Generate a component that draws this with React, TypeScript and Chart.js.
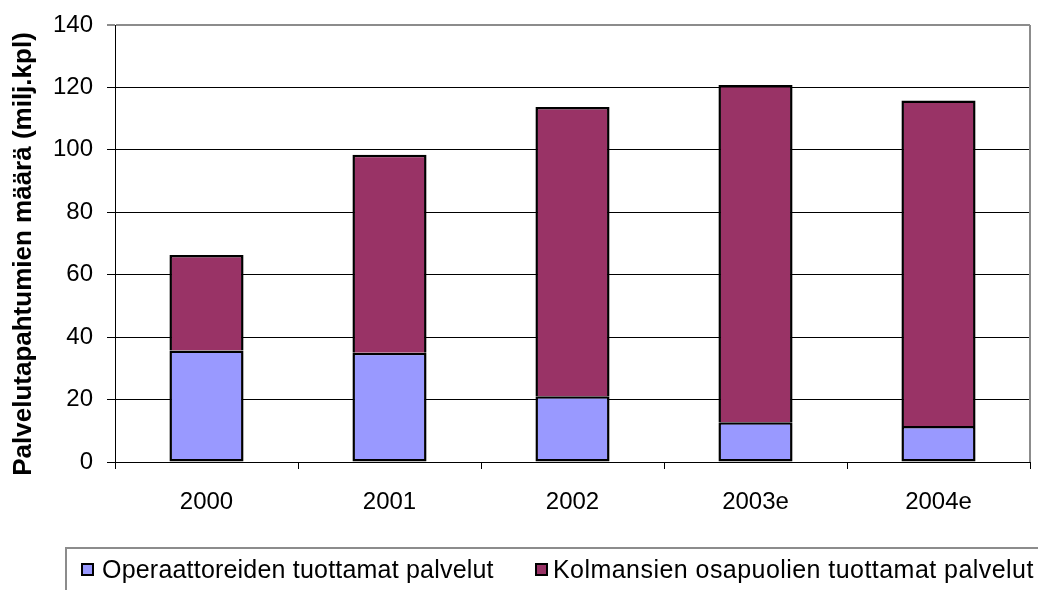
import React, { useEffect, useRef } from "react";
import { Chart, registerables } from "chart.js";

Chart.register(...registerables);

const categories = ["2000", "2001", "2002", "2003e", "2004e"];
const operatorValues = [35.7, 35.0, 21.1, 12.7, 11.5];
const thirdPartyValues = [30.6, 63.4, 92.6, 108.1, 104.3];
const seriesNames = [
  "Operaattoreiden tuottamat palvelut",
  "Kolmansien osapuolien tuottamat palvelut",
];
const yTitle = "Palvelutapahtumien määrä (milj.kpl)";
const yMin = 0;
const yMax = 140;
const yStep = 20;

const FONT = "'Liberation Sans', Arial, sans-serif";
const COLORS = ["#9999FF", "#993366"];

export default function App() {
  const ref = useRef<HTMLCanvasElement | null>(null);

  useEffect(() => {
    if (!ref.current) return;
    const titlePlugin = {
      id: "yTitleAndBorder",
      afterDraw(chart: any) {
        const ctx = chart.ctx;
        const a = chart.chartArea;
        ctx.save();
        ctx.strokeStyle = "#8c8c8c";
        ctx.lineWidth = 2;
        ctx.beginPath();
        ctx.moveTo(a.right, a.top);
        ctx.lineTo(a.right, a.bottom);
        ctx.stroke();
        ctx.translate(24, 254);
        ctx.rotate(-Math.PI / 2);
        ctx.fillStyle = "#000";
        ctx.font = `bold 26px ${FONT}`;
        ctx.textAlign = "center";
        ctx.textBaseline = "middle";
        ctx.fillText(yTitle, 0, 0);
        ctx.restore();
      },
    };
    const chart = new Chart(ref.current, {
      type: "bar",
      data: {
        labels: categories,
        datasets: [
          {
            label: seriesNames[0],
            data: operatorValues,
            backgroundColor: COLORS[0],
            borderColor: "#000",
            borderWidth: 2.5,
            borderSkipped: false,
            barPercentage: 0.405,
            categoryPercentage: 1,
          },
          {
            label: seriesNames[1],
            data: thirdPartyValues,
            backgroundColor: COLORS[1],
            borderColor: "#000",
            borderWidth: 2.5,
            borderSkipped: "bottom",
            barPercentage: 0.405,
            categoryPercentage: 1,
          },
        ],
      },
      options: {
        animation: false,
        responsive: false,
        maintainAspectRatio: false,
        layout: { padding: { top: 25, right: 8, bottom: 0, left: 0 } },
        plugins: {
          legend: { display: false },
          tooltip: { enabled: false },
          title: { display: false },
        },
        scales: {
          x: {
            stacked: true,
            afterFit: (s: any) => {
              s.height = 128;
              s.paddingLeft = 0;
              s.paddingRight = 0;
            },
            grid: {
              display: true,
              drawOnChartArea: false,
              drawTicks: true,
              tickLength: 7,
              offset: true,
              color: "#000",
              lineWidth: 1,
            },
            border: { display: true, color: "#000", width: 1 },
            ticks: {
              color: "#000",
              font: { family: FONT, size: 24 },
              padding: 19,
              maxRotation: 0,
            },
          },
          y: {
            stacked: true,
            min: yMin,
            max: yMax,
            afterFit: (s: any) => {
              s.width = 115;
              s.paddingTop = 0;
              s.paddingBottom = 0;
            },
            grid: {
              color: (c: any) => (c.tick && c.tick.value === yMax ? "#8c8c8c" : "#000"),
              lineWidth: (c: any) => (c.tick && c.tick.value === yMax ? 2 : 1),
              tickLength: 8,
            },
            border: { display: true, color: "#000", width: 1 },
            ticks: {
              stepSize: yStep,
              color: "#000",
              font: { family: FONT, size: 24 },
              padding: 14,
            },
          },
        },
      },
      plugins: [titlePlugin],
    } as any);
    return () => chart.destroy();
  }, []);

  const textStyle: React.CSSProperties = {
    position: "absolute",
    top: 557,
    fontFamily: FONT,
    fontSize: 25,
    lineHeight: "24px",
    letterSpacing: "0.2px",
    color: "#000",
    whiteSpace: "nowrap",
  };
  const boxStyle = (c: string, left: number): React.CSSProperties => ({
    position: "absolute",
    left,
    top: 563,
    width: 13,
    height: 13,
    boxSizing: "border-box",
    border: "2px solid #000",
    background: c,
  });

  return (
    <div
      style={{
        position: "absolute",
        left: 0,
        top: 0,
        width: 1038,
        height: 590,
        background: "#fff",
        overflow: "hidden",
      }}
    >
      <canvas ref={ref} width={1038} height={590} style={{ display: "block" }} />
      <div
        style={{
          position: "absolute",
          left: 65,
          top: 547,
          width: 1000,
          height: 60,
          borderTop: "2px solid #8c8c8c",
          borderLeft: "2px solid #8c8c8c",
        }}
      />
      <div style={boxStyle(COLORS[0], 81)} />
      <div style={{ ...textStyle, left: 102 }}>{seriesNames[0]}</div>
      <div style={boxStyle(COLORS[1], 535)} />
      <div style={{ ...textStyle, left: 553, letterSpacing: "0.45px" }}>{seriesNames[1]}</div>
    </div>
  );
}
